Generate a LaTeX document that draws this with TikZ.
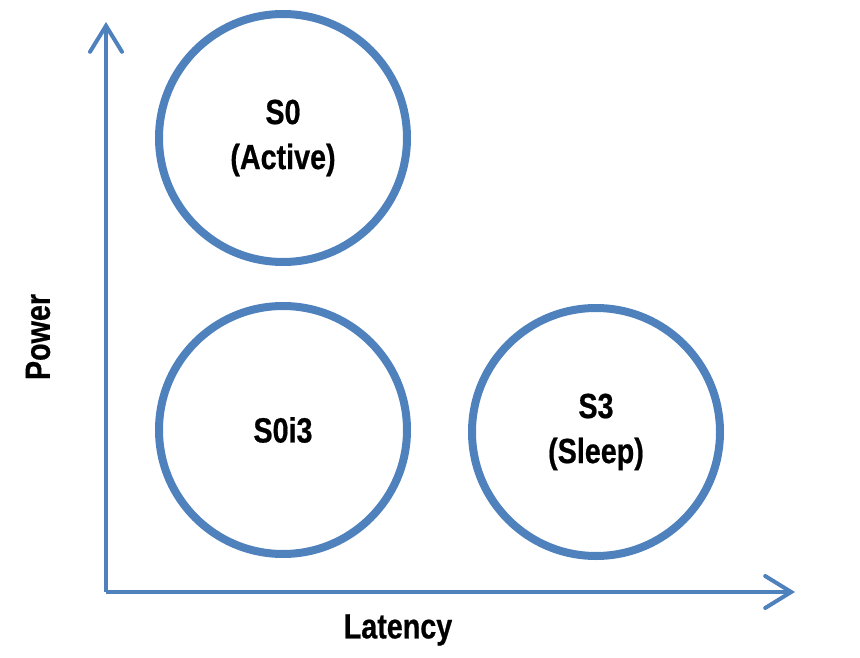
\documentclass[tikz,border=0pt]{standalone}
\usepackage{fontspec}
\setmainfont[FakeStretch=0.82, BoldFeatures={FakeBold=0.6}]{Liberation Sans}
\usepackage{tikz}
\usetikzlibrary{arrows.meta}

\definecolor{stateblue}{RGB}{79,129,189}

\begin{document}
\begin{tikzpicture}[x=1pt, y=-1pt,
    state/.style = {circle, draw=stateblue, line width=8pt, minimum size=248pt,
                    align=center, font={\fontsize{35}{45}\selectfont\bfseries}},
    axislabel/.style = {font={\fontsize{35}{40}\selectfont\bfseries}},
    axis/.style = {draw=stateblue, line width=4pt,
                   -{Straight Barb[length=26pt, width=32pt, line cap=round]}}]
        \useasboundingbox (0, 0) rectangle (860, 658);
        % axes
        \coordinate (origin) at (106, 592);
        \coordinate (ytop) at (106, 22);
        \coordinate (xend) at (795, 592);
        \draw[axis] (origin) -- (ytop);
        \draw[axis] (origin) -- (xend);
        % states
        \node[state] (active) at (283, 138) {S0\\(Active)};
        \node[state] (idle) at (283, 430) {S0i3};
        \node[state] (sleep) at (596, 432) {S3\\(Sleep)};
        % labels
        \node[axislabel, rotate=90] (power) at (38, 337) {Power};
        \node[axislabel] (latency) at (398, 630) {Latency};
    \end{tikzpicture}
\end{document}
